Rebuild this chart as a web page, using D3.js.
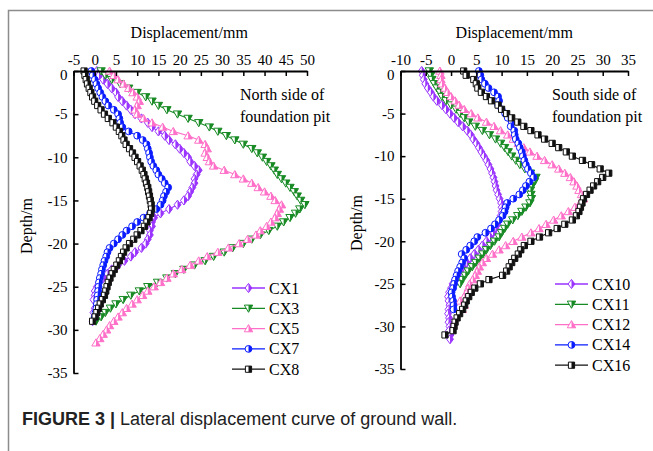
<!DOCTYPE html>
<html>
<head>
<meta charset="utf-8">
<script src="https://cdn.jsdelivr.net/npm/d3@7"></script>
<style>
  body { margin: 0; background: #fff; }
  svg { display: block; }
</style>
</head>
<body>
<svg id="chart" width="653" height="451"></svg>
<script>
// Inclinometer measuring depths (m), one reading every 0.5 m
const depths = [0, -0.5, -1, -1.5, -2, -2.5, -3, -3.5, -4, -4.5, -5, -5.5, -6, -6.5, -7, -7.5,
  -8, -8.5, -9, -9.5, -10, -10.5, -11, -11.5, -12, -12.5, -13, -13.5, -14, -14.5, -15, -15.5,
  -16, -16.5, -17, -17.5, -18, -18.5, -19, -19.5, -20, -20.5, -21, -21.5, -22, -22.5, -23, -23.5,
  -24, -24.5, -25, -25.5, -26, -26.5, -27, -27.5, -28, -28.5, -29, -29.5, -30, -30.5, -31, -31.5];

// North side of the foundation pit: lateral displacement (mm) by depth
const northNames = ["CX1", "CX3", "CX5", "CX7", "CX8"];
const cx1 = [0.5, 1, 2, 3, 4, 5, 5.5, 6.5, 7.5, 8.5, 9.5, 11, 12.5, 13.5, 15, 16.5, 17.5, 19, 20, 21,
  22, 22.5, 23.5, 24.5, 24, 23.5, 23.5, 23, 22.5, 22, 21, 19.5, 17.5, 15.5, 14, 13.5, 13.5, 13, 13,
  12.5, 12, 11, 9.5, 8.5, 7, 5.5, 4, 3, 2, 1, 0.5, 0, 0, -0.3, 0.5, 0, -0.3, 0, -0.5];
const cx3 = [1.5, 2.5, 4, 6, 8, 10, 12, 13.5, 15, 17, 19.5, 22, 24.5, 27, 29, 31, 33, 35, 37, 38.3,
  39.5, 40.5, 41.5, 42.3, 43, 44, 45, 46, 47, 47.7, 48.5, 49.5, 48.3, 47.3, 46, 44.5, 43, 41, 39, 37,
  35, 32.5, 30.5, 28, 26, 23.5, 21, 19, 17, 14.8, 12.5, 10.5, 8.5, 6.7, 5, 3.7, 2.5, 1.5, 0.3];
const cx5 = [3.5, 4.5, 5.5, 6.8, 8, 9, 10, 10.5, 10, 9.5, 10, 11.5, 13.5, 16, 18.5, 22, 24.5, 26,
  26.5, 26, 26.5, 27, 28, 30.5, 33, 35, 37, 38.5, 40, 41.5, 42.5, 44, 43.5, 43, 42.5, 41.5, 40.5, 39,
  38, 36, 34, 31.5, 29, 26.5, 24.5, 22.5, 20.5, 18.5, 17, 15.5, 14, 12.5, 11.3, 10, 8.8, 7.5, 6.5,
  5.5, 4.5, 3.5, 2.8, 2, 1.2, 0.3];
const cx7 = [-0.8, -0.5, 0, 0.4, 0.8, 1.3, 1.8, 2.5, 3.2, 4.5, 5.5, 5.8, 6, 6.5, 8, 10, 11.3, 12.2,
  12.5, 12.8, 13, 13.3, 13.8, 14.5, 15, 15.8, 16.5, 17.3, 16.8, 16.3, 16, 15.5, 14.5, 13, 11.5, 10,
  8.8, 7.5, 6.5, 5.5, 4.5, 3.5, 3, 2.7, 2.3, 2, 1.7, 1.5, 1.2, 1, 0.9, 0.8, 0.7, 0.6, 0.5, 0.4, 0.2, 0];
const cx8 = [-2.5, -2.3, -2, -1.7, -1.3, -0.9, -0.5, 0, 0.7, 1.5, 2.3, 3.2, 4.3, 5.1, 5.8, 6.4, 6.9,
  7.4, 8.2, 8.9, 9.5, 10.1, 10.7, 11.2, 11.6, 11.9, 12.2, 12.5, 12.7, 12.9, 13.1, 13.3, 13.4, 13.2,
  12.8, 12.3, 11.7, 10.9, 10, 9.2, 8.2, 7.4, 6.8, 6.3, 5.8, 5.2, 4.6, 4.1, 3.6, 3.2, 2.9, 2.6, 2.3,
  1.8, 1.3, 0.9, 0.5, 0.1, -0.5];

// South side of the foundation pit
const southNames = ["CX10", "CX11", "CX12", "CX14", "CX16"];
const cx10 = [-5.8, -5.6, -5.4, -5.1, -4.6, -4, -3.5, -2.8, -1.8, -1, -0.2, 0.6, 1.4, 2.3, 3.2, 3.9,
  4.4, 5, 5.5, 6, 6.5, 7, 7.4, 7.8, 8.1, 8.4, 8.6, 8.8, 9, 9.3, 9.6, 9.9, 10, 10, 9.8, 9.5, 9.2, 8.8,
  8.3, 7.7, 7, 6.2, 5.4, 4.6, 3.8, 3.1, 2.4, 1.8, 1.3, 0.8, 0.3, 0, -0.4, -0.6, -0.5, -0.3, -0.5, -0.6,
  -0.4, -0.5, -0.3, -0.4, -0.1, -0.2];
const cx11 = [-4.3, -4, -3.8, -3.3, -2.8, -2.2, -1.8, -1, 0, 1, 1.8, 2.6, 3.5, 4.8, 6.2, 7.6, 8.8, 9.8,
  10.6, 11.3, 12, 12.8, 13.6, 14.6, 15.7, 16.8, 16.5, 16, 15.7, 15.8, 15.9, 15.6, 14.8, 14, 13.2, 12.2,
  11.2, 10.6, 10, 9.5, 8.6, 7.8, 7, 6.3, 5.6, 4.9, 4.2, 3.4, 2.8, 2.2, 1.8];
const cx12 = [-2.2, -2, -2, -1.8, -1.2, -0.7, 0, 0.8, 1.6, 2.6, 4, 5.3, 7, 8.5, 9.8, 11.2, 12.3, 13.3,
  14.4, 15.6, 17, 18.5, 20, 21.3, 22.5, 23.6, 24.3, 24.9, 25.3, 25.8, 26.2, 25.5, 24.5, 23.2, 21.8,
  20.3, 18.8, 17.4, 15.8, 14, 12.3, 10.8, 9.5, 8.2, 7, 6.2, 5.6, 5.2, 4.8, 4.3, 3.7, 3.4, 3.1, 2.6, 1.8,
  2.6, 2.2];
const cx14 = [5.5, 5.8, 6, 6.7, 7.4, 8.5, 9.3, 9.5, 9.3, 10, 10.7, 11.2, 12, 11.8, 12.5, 12.6, 12.8,
  13.3, 13.6, 14, 14.2, 14.5, 14.8, 15.2, 15.8, 16.3, 15.5, 14.8, 14.2, 13.5, 12.3, 11.1, 10.8, 10.6,
  10.2, 9.5, 8.7, 7.9, 6.8, 5.2, 4.6, 3.8, 3, 2.1, 2.6, 2.2, 1.8, 1.4, 1.1, 0.8, 0.6, 0.4, 0.1, 0.2,
  0.4, 0.5, 0.5];
const cx16 = [2.5, 3, 4.5, 5, 5.3, 6, 7, 8, 9.3, 10, 11, 12, 13.2, 14.4, 15.8, 17.2, 18.5, 20, 21.3,
  22.8, 24, 26, 27.8, 29.5, 31.2, 30, 29, 28.2, 27.5, 26.8, 26.2, 25.9, 25.6, 25.3, 24.8, 24, 22.5, 21,
  19.3, 17.5, 15.8, 14.5, 13.8, 13.3, 12.6, 12, 11.5, 11, 10.2, 7.5, 5.8, 4.7, 4, 3.5, 3, 2.7, 2.3,
  1.7, 1.2, 0.8, 0.6, 0.4, -1.2];

// Axis tick values
const northXTicks = [-5, 0, 5, 10, 15, 20, 25, 30, 35, 40, 45, 50];
const southXTicks = [-10, -5, 0, 5, 10, 15, 20, 25, 30, 35];
const depthTicks = [0, -5, -10, -15, -20, -25, -30, -35];

// ---------------------------------------------------------------------------
const svg = d3.select("#chart");
const serif = "'Liberation Serif', 'Times New Roman', serif";
const plainNumber = d => String(d);   // hyphen-minus, as in the printed axes

const colors = ["#9a33ff", "#178a24", "#ff6fc8", "#0a1cff", "#111111"];

// Marker outlines, centred on the point
const shapes = [
  "M0,-4.6L3.4,0L0,4.6L-3.4,0Z",                               // diamond
  "M-4.2,-3.2L4.2,-3.2L0,4Z",                                   // triangle down
  "M-4.2,3.2L4.2,3.2L0,-4Z",                                    // triangle up
  "M3.4,0A3.4,3.4 0 1,1 -3.4,0A3.4,3.4 0 1,1 3.4,0Z",          // circle
  "M-3.1,-3.1H3.1V3.1H-3.1Z"                                     // square
];

// right half of each marker is filled
svg.append("defs").append("clipPath")
  .attr("id", "rightHalf")
  .attr("clipPathUnits", "objectBoundingBox")
  .append("rect").attr("x", 0.5).attr("y", -0.1).attr("width", 0.6).attr("height", 1.2);

function marker(g, i, color) {
  g.append("path").attr("d", shapes[i]).attr("fill", "#fff")
    .attr("stroke", color).attr("stroke-width", 1);
  g.append("path").attr("d", shapes[i]).attr("fill", color)
    .attr("stroke", "none").attr("clip-path", "url(#rightHalf)");
}

// outer frame
svg.append("path").attr("d", "M8.5,451V10.5H653")
  .attr("fill", "none").attr("stroke", "#8c8c8c").attr("stroke-width", 1.5);

function panel(cfg) {
  const x = d3.scaleLinear().domain(cfg.xDomain).range([cfg.left, cfg.right]);
  const y = d3.scaleLinear().domain([0, -35]).range([cfg.top, cfg.bottom]);
  const g = svg.append("g");

  // series: line first, then markers
  cfg.series.forEach((vals, i) => {
    const pts = vals.map((v, k) => ({ v: v, d: depths[k] }));
    const sg = g.append("g");
    sg.append("path").datum(pts)
      .attr("fill", "none").attr("stroke", colors[i]).attr("stroke-width", 1.1)
      .attr("d", d3.line().x(p => x(p.v)).y(p => y(p.d)));
    sg.selectAll("g.m").data(pts).join("g").attr("class", "m")
      .attr("transform", p => `translate(${x(p.v)},${y(p.d)})`)
      .each(function () { marker(d3.select(this), i, colors[i]); });
  });

  // axes
  const xAxis = d3.axisTop(x).tickValues(cfg.xTicks).tickFormat(plainNumber)
    .tickSizeInner(-5).tickSizeOuter(0).tickPadding(6);
  const yAxis = d3.axisLeft(y).tickValues(depthTicks).tickFormat(plainNumber)
    .tickSizeInner(-5).tickSizeOuter(0).tickPadding(6);
  const ax = g.append("g").attr("transform", `translate(0,${cfg.top})`).call(xAxis);
  const ay = g.append("g").attr("transform", `translate(${cfg.left},0)`).call(yAxis);
  [ax, ay].forEach(a => {
    a.selectAll("path.domain").attr("stroke", "#000").attr("stroke-width", 1.8);
    a.selectAll(".tick line").attr("stroke", "#000").attr("stroke-width", 1.5);
    a.selectAll("text").attr("font-family", serif).attr("font-size", 15).attr("fill", "#000");
  });
  // the zero depth label sits just below the corner
  ay.selectAll(".tick text").filter(d => d === 0).attr("dy", "0.55em");

  // axis titles
  g.append("text").attr("x", (cfg.left + cfg.right) / 2 + cfg.titleShift).attr("y", 38)
    .attr("text-anchor", "middle").attr("font-family", serif).attr("font-size", 16)
    .text("Displacement/mm");
  g.append("text").attr("transform", `translate(${cfg.depthX},${cfg.depthY}) rotate(-90)`)
    .attr("text-anchor", "middle").attr("font-family", serif).attr("font-size", 16)
    .text("Depth/m");

  // side note
  cfg.note.forEach((t, k) => {
    g.append("text").attr("x", cfg.noteX).attr("y", 100 + k * 22)
      .attr("font-family", serif).attr("font-size", 16).text(t);
  });

  // legend
  cfg.names.forEach((name, i) => {
    const ly = cfg.legendY + i * cfg.legendStep;
    const lg = g.append("g");
    lg.append("line").attr("x1", cfg.legendX).attr("x2", cfg.legendX + 33)
      .attr("y1", ly).attr("y2", ly).attr("stroke", colors[i]).attr("stroke-width", 1.3);
    const mg = lg.append("g").attr("transform", `translate(${cfg.legendX + 16.5},${ly})`);
    marker(mg, i, colors[i]);
    lg.append("text").attr("x", cfg.legendX + 37).attr("y", ly + 5.5)
      .attr("font-family", serif).attr("font-size", 16).text(name);
  });
}

panel({
  xDomain: [-5, 50], left: 73.5, right: 307, top: 71, bottom: 373,
  xTicks: northXTicks, series: [cx1, cx3, cx5, cx7, cx8], names: northNames,
  titleShift: -1, depthX: 32, depthY: 226,
  note: ["North side of", "foundation pit"], noteX: 240,
  legendX: 232, legendY: 288, legendStep: 20.3
});

panel({
  xDomain: [-10, 35], left: 400.5, right: 628, top: 71, bottom: 369,
  xTicks: southXTicks, series: [cx10, cx11, cx12, cx14, cx16], names: southNames,
  titleShift: 0, depthX: 362, depthY: 223,
  note: ["South side of", "foundation pit"], noteX: 552,
  legendX: 555, legendY: 284, legendStep: 20.3
});

// figure caption
const cap = svg.append("text").attr("x", 22).attr("y", 425)
  .attr("font-family", "'Liberation Sans', Arial, sans-serif").attr("font-size", 18).attr("fill", "#222");
cap.append("tspan").attr("font-weight", "bold").text("FIGURE 3 | ");
cap.append("tspan").text("Lateral displacement curve of ground wall.");
</script>
</body>
</html>
